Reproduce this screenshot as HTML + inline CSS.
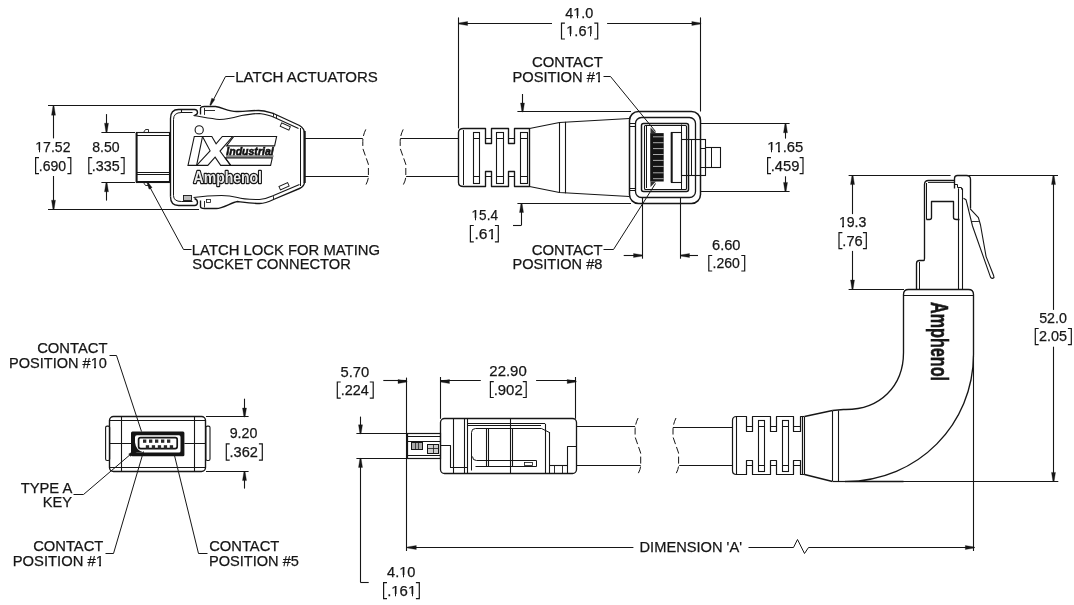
<!DOCTYPE html>
<html><head><meta charset="utf-8"><style>
html,body{margin:0;padding:0;background:#fff;}
svg{display:block;font-family:"Liberation Sans",sans-serif;will-change:transform;}
</style></head><body>
<svg width="1074" height="605" viewBox="0 0 1074 605">
<rect width="1074" height="605" fill="#fff"/>
<line x1="48" y1="105.5" x2="201" y2="105.5" stroke="#161616" stroke-width="1.1" />
<line x1="48" y1="209.5" x2="199" y2="209.5" stroke="#161616" stroke-width="1.1" />
<line x1="53.5" y1="105.7" x2="53.5" y2="138.4" stroke="#161616" stroke-width="1.1" />
<polygon points="54.05,106.2 55.5,115.2 51.5,115.2 52.95,106.2" fill="#161616" stroke="#161616" stroke-width="0.3" stroke-linejoin="round"/>
<line x1="53.5" y1="176" x2="53.5" y2="209.6" stroke="#161616" stroke-width="1.1" />
<polygon points="52.95,209.2 51.5,200.2 55.5,200.2 54.05,209.2" fill="#161616" stroke="#161616" stroke-width="0.3" stroke-linejoin="round"/>
<line x1="101.4" y1="132.5" x2="135" y2="132.5" stroke="#161616" stroke-width="1.1" />
<line x1="101.4" y1="182.5" x2="135" y2="182.5" stroke="#161616" stroke-width="1.1" />
<line x1="106.5" y1="114.1" x2="106.5" y2="132.4" stroke="#161616" stroke-width="1.1" />
<polygon points="105.95,132.2 104.5,123.2 108.5,123.2 107.05,132.2" fill="#161616" stroke="#161616" stroke-width="0.3" stroke-linejoin="round"/>
<line x1="106.5" y1="182.6" x2="106.5" y2="200.6" stroke="#161616" stroke-width="1.1" />
<polygon points="107.05,182.8 108.5,191.8 104.5,191.8 105.95,182.8" fill="#161616" stroke="#161616" stroke-width="0.3" stroke-linejoin="round"/>
<rect x="136.5" y="132.5" width="33" height="50" rx="0" fill="none" stroke="#161616" stroke-width="1.1" />
<line x1="136.6" y1="132.6" x2="136.6" y2="182.6" stroke="#161616" stroke-width="2.0" />
<line x1="137" y1="135.5" x2="169.5" y2="135.5" stroke="#161616" stroke-width="1.1" />
<line x1="137" y1="172.5" x2="169.5" y2="172.5" stroke="#161616" stroke-width="1.1" />
<line x1="137" y1="174.5" x2="169.5" y2="174.5" stroke="#161616" stroke-width="1.1" />
<line x1="137" y1="181.5" x2="169.5" y2="181.5" stroke="#161616" stroke-width="1.1" />
<polyline points="143.5,132.5 145.5,129.5 148.5,129.5 148.5,132.5" fill="none" stroke="#161616" stroke-width="0.9" stroke-linejoin="round" />
<polyline points="143.5,182.5 145.5,185.5 148.5,185.5 148.5,182.5" fill="none" stroke="#161616" stroke-width="0.9" stroke-linejoin="round" />
<path d="M 170.5,196.5 L 170.5,118.5 Q 170.5,109.5 178.5,109.5 L 194.5,109.5 Q 197.5,109.5 197.5,112.5 Q 197.5,114.5 194.5,115.5" fill="none" stroke="#161616" stroke-width="1.35" stroke-linejoin="round" />
<path d="M 173.5,195.5 L 173.5,119.5 Q 173.5,112.5 181.5,112.5 L 192.5,112.5" fill="none" stroke="#161616" stroke-width="1.0" stroke-linejoin="round" />
<line x1="181.5" y1="109.5" x2="181.5" y2="112.9" stroke="#161616" stroke-width="1.1" />
<path d="M 170.5,196.5 Q 170.5,205.5 178.5,205.5 L 194.5,205.5 Q 197.5,205.5 197.5,202.5 Q 197.5,199.5 194.5,198.5" fill="none" stroke="#161616" stroke-width="1.35" stroke-linejoin="round" />
<path d="M 173.5,195.5 Q 173.5,201.5 181.5,201.5 L 192.5,201.5" fill="none" stroke="#161616" stroke-width="1.0" stroke-linejoin="round" />
<path d="M 200.5,114.5 L 200.5,108.5 Q 200.5,106.5 204.5,106.5 L 215.5,106.5 C 222.5,107.5 228.5,111.5 236.5,111.5 C 242.5,111.5 250.5,110.5 258.5,110.5 C 265.5,110.5 269.5,112.5 273.5,113.5 L 299.5,125.5 Q 304.5,128.5 304.5,133.5 L 304.5,181.5 Q 304.5,186.5 299.5,188.5 L 273.5,199.5 C 269.5,201.5 265.5,203.5 259.5,203.5 C 252.5,203.5 245.5,202.5 237.5,201.5 C 231.5,202.5 222.5,208.5 216.5,208.5 L 204.5,208.5 Q 200.5,208.5 200.5,206.5 L 200.5,200.5" fill="none" stroke="#161616" stroke-width="1.35" stroke-linejoin="round" />
<path d="M 193.5,115.5 C 200.5,116.5 210.5,118.5 219.5,119.5 C 228.5,119.5 234.5,117.5 241.5,115.5 C 247.5,114.5 253.5,113.5 259.5,113.5 C 266.5,114.5 270.5,115.5 274.5,117.5 L 298.5,128.5" fill="none" stroke="#161616" stroke-width="1.1" stroke-linejoin="round" />
<path d="M 193.5,197.5 C 200.5,196.5 210.5,195.5 221.5,195.5 C 229.5,195.5 233.5,196.5 237.5,197.5 C 243.5,199.5 249.5,199.5 259.5,199.5 C 266.5,199.5 270.5,196.5 273.5,195.5 L 299.5,184.5" fill="none" stroke="#161616" stroke-width="1.1" stroke-linejoin="round" />
<line x1="300.5" y1="128" x2="300.5" y2="186" stroke="#161616" stroke-width="1.0" />
<line x1="304.6" y1="131" x2="304.6" y2="183" stroke="#161616" stroke-width="2.2" />
<line x1="204.5" y1="108" x2="204.5" y2="114.9" stroke="#161616" stroke-width="0.9" />
<line x1="204.2" y1="110.5" x2="215" y2="110.5" stroke="#161616" stroke-width="0.9" />
<line x1="204.5" y1="201" x2="204.5" y2="207.5" stroke="#161616" stroke-width="0.9" />
<rect x="206.5" y="199.5" width="4" height="3" rx="0" fill="none" stroke="#161616" stroke-width="0.8" />
<g transform="rotate(24 285 126.5)"><rect x="280.5" y="124.6" width="9.5" height="3.6" fill="none" stroke="#161616" stroke-width="0.9"/></g>
<g transform="rotate(-24 284 186.3)"><rect x="279.3" y="184.4" width="9.5" height="3.8" fill="none" stroke="#161616" stroke-width="0.9"/></g>
<rect x="183.5" y="195.5" width="8" height="5" rx="0" fill="#bbb" stroke="#161616" stroke-width="0.9" />
<line x1="273.5" y1="113.6" x2="273.5" y2="116.8" stroke="#161616" stroke-width="0.9" />
<line x1="276.5" y1="115" x2="276.5" y2="118.2" stroke="#161616" stroke-width="0.9" />
<line x1="273.5" y1="196.2" x2="273.5" y2="199.4" stroke="#161616" stroke-width="0.9" />
<circle cx="199.2" cy="129.9" r="4.1" fill="none" stroke="#161616" stroke-width="1.1"/>
<polygon points="194.3,136.5 202.5,136.5 196.6,165.4 188,165.4" fill="none" stroke="#161616" stroke-width="1.1" stroke-linejoin="miter"/>
<polygon points="202.5,136.5 211.8,136.5 216.1,143.9 222.3,136.5 232.6,136.5 220,151.1 230.6,165.4 220.7,165.4 215.1,157.1 207.8,165.4 196.6,165.4 210.1,150.8" fill="none" stroke="#161616" stroke-width="1.1" stroke-linejoin="miter"/>
<polygon points="233.8,136.5 276.6,136.5 274.6,145.9 226.6,145.9" fill="none" stroke="#161616" stroke-width="1.1" stroke-linejoin="miter"/>
<rect x="226" y="155.2" width="47.5" height="2" fill="#8a8a8a"/>
<text x="226.3" y="155" font-size="10.6" font-weight="bold" font-style="italic" textLength="47.4" lengthAdjust="spacingAndGlyphs" fill="#111" stroke="#111" stroke-width="0.6">Industrial</text>
<polygon points="225.2,157.9 272.3,157.9 270.6,165.4 230.8,165.4" fill="none" stroke="#161616" stroke-width="1.1" stroke-linejoin="miter"/>
<text x="193.6" y="183.4" font-size="16.8" font-weight="bold" textLength="68.4" lengthAdjust="spacingAndGlyphs" fill="#161616" stroke="#161616" stroke-width="2.6" stroke-linejoin="round">Amphenol</text>
<text x="193.6" y="183.4" font-size="16.8" font-weight="bold" textLength="68.4" lengthAdjust="spacingAndGlyphs" fill="#ececec">Amphenol</text>
<line x1="305" y1="138.5" x2="362.8" y2="138.5" stroke="#161616" stroke-width="1.1" />
<line x1="305" y1="176.5" x2="368.4" y2="176.5" stroke="#161616" stroke-width="1.1" />
<path d="M 365.8,129.4 Q 362.8,135.4 362.8,141.4 L 362.8,148.4 L 368.4,164.3 L 368.4,176.3 Q 368.4,180.3 365.6,185.3" fill="none" stroke="#161616" stroke-width="1.0" stroke-dasharray="7,3"/>
<polyline points="234.5,76.5 225.5,76.5 212.5,101.5" fill="none" stroke="#161616" stroke-width="1.0" stroke-linejoin="round" />
<polygon points="209.8,104.97 211.74,98.14 214.82,99.59 210.8,105.43" fill="#161616" stroke="#161616" stroke-width="0.3" stroke-linejoin="round"/>
<polyline points="191.5,249.5 183.5,249.5 149.5,186.5" fill="none" stroke="#161616" stroke-width="1.0" stroke-linejoin="round" />
<polygon points="147.79,181.94 152.08,187.59 149.08,189.18 146.81,182.46" fill="#161616" stroke="#161616" stroke-width="0.3" stroke-linejoin="round"/>
<path d="M 403.2,129.4 Q 400.2,135.4 400.2,141.4 L 400.2,148.4 L 405.8,164.3 L 405.8,176.3 Q 405.8,180.3 403.0,185.3" fill="none" stroke="#161616" stroke-width="1.0" stroke-dasharray="7,3"/>
<line x1="400.2" y1="138.5" x2="458.8" y2="138.5" stroke="#161616" stroke-width="1.1" />
<line x1="406.1" y1="176.5" x2="458.8" y2="176.5" stroke="#161616" stroke-width="1.1" />
<line x1="458.5" y1="17.4" x2="458.5" y2="128.4" stroke="#161616" stroke-width="1.1" />
<line x1="700.5" y1="17.4" x2="700.5" y2="111.5" stroke="#161616" stroke-width="1.1" />
<line x1="458.6" y1="23.5" x2="552" y2="23.5" stroke="#161616" stroke-width="1.1" />
<polygon points="458.6,22.95 467.6,21.5 467.6,25.5 458.6,24.05" fill="#161616" stroke="#161616" stroke-width="0.3" stroke-linejoin="round"/>
<line x1="607.1" y1="23.5" x2="700.3" y2="23.5" stroke="#161616" stroke-width="1.1" />
<polygon points="700.8,24.05 691.8,25.5 691.8,21.5 700.8,22.95" fill="#161616" stroke="#161616" stroke-width="0.3" stroke-linejoin="round"/>
<polyline points="603.5,76.5 610.5,76.5 655.5,131.5" fill="none" stroke="#161616" stroke-width="1.0" stroke-linejoin="round" />
<line x1="517.4" y1="111.5" x2="631" y2="111.5" stroke="#161616" stroke-width="1.1" />
<line x1="517.4" y1="203.5" x2="631" y2="203.5" stroke="#161616" stroke-width="1.1" />
<line x1="522.5" y1="94" x2="522.5" y2="111.9" stroke="#161616" stroke-width="1.1" />
<polygon points="521.95,112 520.5,103 524.5,103 523.05,112" fill="#161616" stroke="#161616" stroke-width="0.3" stroke-linejoin="round"/>
<line x1="521.5" y1="203.3" x2="521.5" y2="225.2" stroke="#161616" stroke-width="1.1" />
<polygon points="522.05,203.5 523.5,212.5 519.5,212.5 520.95,203.5" fill="#161616" stroke="#161616" stroke-width="0.3" stroke-linejoin="round"/>
<line x1="513" y1="225.5" x2="521.5" y2="225.5" stroke="#161616" stroke-width="1.1" />
<path d="M 463.5,128.5 L 485.5,128.5 L 485.5,143.5 L 491.5,143.5 L 491.5,128.5 L 508.5,128.5 L 508.5,143.5 L 514.5,143.5 L 514.5,128.5 L 529.5,128.5 L 529.5,186.5 L 514.5,186.5 L 514.5,171.5 L 508.5,171.5 L 508.5,186.5 L 491.5,186.5 L 491.5,171.5 L 485.5,171.5 L 485.5,186.5 L 463.5,186.5 Q 458.5,186.5 458.5,182.5 L 458.5,132.5 Q 458.5,128.5 463.5,128.5 Z" fill="none" stroke="#161616" stroke-width="1.35" stroke-linejoin="round" />
<line x1="463.5" y1="130" x2="463.5" y2="185" stroke="#161616" stroke-width="1.0" />
<line x1="485.4" y1="138.5" x2="491.3" y2="138.5" stroke="#161616" stroke-width="1.0" />
<line x1="485.4" y1="176.5" x2="491.3" y2="176.5" stroke="#161616" stroke-width="1.0" />
<line x1="508.8" y1="138.5" x2="514.6" y2="138.5" stroke="#161616" stroke-width="1.0" />
<line x1="508.8" y1="176.5" x2="514.6" y2="176.5" stroke="#161616" stroke-width="1.0" />
<rect x="473.5" y="132.5" width="6" height="51" rx="0" fill="none" stroke="#161616" stroke-width="1.1" />
<line x1="473.5" y1="138.5" x2="479.4" y2="138.5" stroke="#161616" stroke-width="1.0" />
<line x1="473.5" y1="176.5" x2="479.4" y2="176.5" stroke="#161616" stroke-width="1.0" />
<rect x="496.5" y="132.5" width="7" height="51" rx="0" fill="none" stroke="#161616" stroke-width="1.1" />
<line x1="496.2" y1="138.5" x2="503.2" y2="138.5" stroke="#161616" stroke-width="1.0" />
<line x1="496.2" y1="176.5" x2="503.2" y2="176.5" stroke="#161616" stroke-width="1.0" />
<rect x="520.5" y="132.5" width="7" height="51" rx="0" fill="none" stroke="#161616" stroke-width="1.1" />
<line x1="520.4" y1="138.5" x2="527.3" y2="138.5" stroke="#161616" stroke-width="1.0" />
<line x1="520.4" y1="176.5" x2="527.3" y2="176.5" stroke="#161616" stroke-width="1.0" />
<polyline points="529.5,128.5 559.5,122.5 629.5,118.5" fill="none" stroke="#161616" stroke-width="1.2" stroke-linejoin="round" />
<polyline points="529.5,186.5 559.5,192.5 629.5,196.5" fill="none" stroke="#161616" stroke-width="1.2" stroke-linejoin="round" />
<line x1="559.5" y1="122.4" x2="559.5" y2="192.9" stroke="#161616" stroke-width="1.1" />
<line x1="565.5" y1="121.8" x2="565.5" y2="193.3" stroke="#161616" stroke-width="1.1" />
<rect x="629.5" y="111.5" width="71" height="92" rx="9" fill="none" stroke="#161616" stroke-width="1.5" />
<rect x="635.5" y="117.5" width="60" height="80" rx="6" fill="none" stroke="#161616" stroke-width="1.3" />
<rect x="641.5" y="123.5" width="47" height="68" rx="2" fill="none" stroke="#161616" stroke-width="1.5" />
<rect x="644.5" y="125.5" width="42" height="64" rx="1" fill="none" stroke="#161616" stroke-width="1.1" />
<line x1="630" y1="123.5" x2="635.9" y2="123.5" stroke="#161616" stroke-width="1.0" />
<line x1="630" y1="126.5" x2="635.9" y2="126.5" stroke="#161616" stroke-width="1.0" />
<line x1="630" y1="188.5" x2="635.9" y2="188.5" stroke="#161616" stroke-width="1.0" />
<line x1="630" y1="190.5" x2="635.9" y2="190.5" stroke="#161616" stroke-width="1.0" />
<line x1="646.5" y1="126" x2="646.5" y2="188" stroke="#161616" stroke-width="1.0" />
<rect x="650.2" y="133.1" width="13.5" height="48.4" fill="#141414"/>
<line x1="653" y1="136.8" x2="663.7" y2="136.8" stroke="#d0d0d0" stroke-width="0.8"/>
<line x1="653" y1="142.7" x2="663.7" y2="142.7" stroke="#d0d0d0" stroke-width="0.8"/>
<line x1="653" y1="148.6" x2="663.7" y2="148.6" stroke="#d0d0d0" stroke-width="0.8"/>
<line x1="653" y1="154.5" x2="663.7" y2="154.5" stroke="#d0d0d0" stroke-width="0.8"/>
<line x1="653" y1="160.4" x2="663.7" y2="160.4" stroke="#d0d0d0" stroke-width="0.8"/>
<line x1="653" y1="166.4" x2="663.7" y2="166.4" stroke="#d0d0d0" stroke-width="0.8"/>
<line x1="653" y1="172.8" x2="663.7" y2="172.8" stroke="#d0d0d0" stroke-width="0.8"/>
<line x1="653" y1="178.7" x2="663.7" y2="178.7" stroke="#d0d0d0" stroke-width="0.8"/>
<polygon points="650.5,127.5 656,133.1 650.5,133.1" fill="#333"/>
<polygon points="650.5,187 656,181.5 650.5,181.5" fill="#333"/>
<line x1="671.7" y1="132.3" x2="671.7" y2="182.4" stroke="#161616" stroke-width="2.0" />
<rect x="671.5" y="132.5" width="10" height="50" rx="0" fill="none" stroke="#161616" stroke-width="1.1" />
<rect x="681.5" y="139.5" width="24" height="36" rx="0" fill="none" stroke="#161616" stroke-width="1.1" />
<line x1="691.5" y1="139.3" x2="691.5" y2="175.1" stroke="#161616" stroke-width="1.0" />
<line x1="695.5" y1="139.3" x2="695.5" y2="175.1" stroke="#161616" stroke-width="1.0" />
<line x1="700.3" y1="148.5" x2="705.3" y2="148.5" stroke="#161616" stroke-width="1.0" />
<line x1="700.3" y1="167.5" x2="705.3" y2="167.5" stroke="#161616" stroke-width="1.0" />
<rect x="705.5" y="147.5" width="15" height="20" rx="0" fill="none" stroke="#161616" stroke-width="1.1" />
<line x1="711.5" y1="147.6" x2="711.5" y2="167.3" stroke="#161616" stroke-width="1.0" />
<line x1="681.5" y1="124.5" x2="681.5" y2="132.3" stroke="#161616" stroke-width="1.0" />
<line x1="681.5" y1="182.4" x2="681.5" y2="190" stroke="#161616" stroke-width="1.0" />
<line x1="700.3" y1="123.5" x2="789.6" y2="123.5" stroke="#161616" stroke-width="1.1" />
<line x1="700.3" y1="191.5" x2="789.6" y2="191.5" stroke="#161616" stroke-width="1.1" />
<line x1="785.5" y1="123.3" x2="785.5" y2="138.6" stroke="#161616" stroke-width="1.1" />
<polygon points="786.05,123.8 787.5,132.8 783.5,132.8 784.95,123.8" fill="#161616" stroke="#161616" stroke-width="0.3" stroke-linejoin="round"/>
<line x1="785.5" y1="176.3" x2="785.5" y2="191.8" stroke="#161616" stroke-width="1.1" />
<polygon points="784.95,191.4 783.5,182.4 787.5,182.4 786.05,191.4" fill="#161616" stroke="#161616" stroke-width="0.3" stroke-linejoin="round"/>
<line x1="642.5" y1="197" x2="642.5" y2="258.7" stroke="#161616" stroke-width="1.1" />
<line x1="680.5" y1="197" x2="680.5" y2="258.7" stroke="#161616" stroke-width="1.1" />
<line x1="623.7" y1="255.5" x2="642" y2="255.5" stroke="#161616" stroke-width="1.1" />
<polygon points="642.5,256.05 633.5,257.5 633.5,253.5 642.5,254.95" fill="#161616" stroke="#161616" stroke-width="0.3" stroke-linejoin="round"/>
<line x1="680.8" y1="255.5" x2="698" y2="255.5" stroke="#161616" stroke-width="1.1" />
<polygon points="680.5,254.95 689.5,253.5 689.5,257.5 680.5,256.05" fill="#161616" stroke="#161616" stroke-width="0.3" stroke-linejoin="round"/>
<polyline points="603.5,249.5 613.5,249.5 655.5,183.5" fill="none" stroke="#161616" stroke-width="1.0" stroke-linejoin="round" />
<line x1="848.6" y1="175.5" x2="950.6" y2="175.5" stroke="#161616" stroke-width="1.1" />
<line x1="969" y1="175.5" x2="1058" y2="175.5" stroke="#161616" stroke-width="1.1" />
<line x1="848.6" y1="289.5" x2="904" y2="289.5" stroke="#161616" stroke-width="1.1" />
<line x1="852.5" y1="175.3" x2="852.5" y2="214.1" stroke="#161616" stroke-width="1.1" />
<polygon points="853.05,175.6 854.5,184.6 850.5,184.6 851.95,175.6" fill="#161616" stroke="#161616" stroke-width="0.3" stroke-linejoin="round"/>
<line x1="852.5" y1="250.9" x2="852.5" y2="289.1" stroke="#161616" stroke-width="1.1" />
<polygon points="851.95,289 850.5,280 854.5,280 853.05,289" fill="#161616" stroke="#161616" stroke-width="0.3" stroke-linejoin="round"/>
<line x1="1053.5" y1="175.3" x2="1053.5" y2="309.9" stroke="#161616" stroke-width="1.1" />
<polygon points="1054.05,175.6 1055.5,184.6 1051.5,184.6 1052.95,175.6" fill="#161616" stroke="#161616" stroke-width="0.3" stroke-linejoin="round"/>
<line x1="1053.5" y1="346.7" x2="1053.5" y2="481.2" stroke="#161616" stroke-width="1.1" />
<polygon points="1052.95,481.4 1051.5,472.4 1055.5,472.4 1054.05,481.4" fill="#161616" stroke="#161616" stroke-width="0.3" stroke-linejoin="round"/>
<line x1="846" y1="481.5" x2="1058.3" y2="481.5" stroke="#161616" stroke-width="1.1" />
<path d="M 916.5,289.5 L 916.5,263.5 Q 916.5,260.5 919.5,260.5 L 923.5,260.5 Q 924.5,260.5 924.5,258.5 L 924.5,184.5 Q 924.5,180.5 928.5,180.5 L 954.5,180.5" fill="none" stroke="#161616" stroke-width="1.35" stroke-linejoin="round" />
<line x1="919.5" y1="262" x2="919.5" y2="289.5" stroke="#161616" stroke-width="1.0" />
<line x1="926.5" y1="183" x2="926.5" y2="219.6" stroke="#161616" stroke-width="1.0" />
<line x1="928" y1="182.5" x2="954.1" y2="182.5" stroke="#161616" stroke-width="0.9" />
<path d="M 926.5,219.5 L 929.5,219.5 Q 931.5,219.5 931.5,217.5 L 931.5,201.5 L 953.5,201.5 L 953.5,217.5 Q 953.5,219.5 956.5,219.5 L 959.5,219.5" fill="none" stroke="#161616" stroke-width="1.35" stroke-linejoin="round" />
<line x1="958.5" y1="188.3" x2="958.5" y2="289.5" stroke="#161616" stroke-width="1.1" />
<line x1="962.5" y1="188.3" x2="962.5" y2="289.5" stroke="#161616" stroke-width="1.1" />
<path d="M 954.5,188.5 L 954.5,178.5 Q 954.5,175.5 957.5,175.5 L 966.5,175.5 Q 970.5,175.5 970.5,179.5 L 970.5,208.5" fill="none" stroke="#161616" stroke-width="1.35" stroke-linejoin="round" />
<polyline points="954.5,184.5 957.5,184.5 957.5,187.5 961.5,187.5 961.5,189.5" fill="none" stroke="#161616" stroke-width="1.0" stroke-linejoin="round" />
<path d="M 963.5,198.2 L 966,199.7 L 972.5,226 L 990.5,277.1 Q 992,279.5 994,277.5 L 993.5,275.2 L 986.1,256.6 L 980.5,225 L 978.4,217.6 L 970,208.7" fill="none" stroke="#161616" stroke-width="1.1" stroke-linejoin="round"/>
<line x1="971.9" y1="221.5" x2="978.9" y2="221.5" stroke="#161616" stroke-width="0.9" />
<path d="M 903.5,481.5 L 845.5,481.5 C 918.5,481.5 973.5,423.5 973.5,354.5 L 973.5,294.5 Q 973.5,289.5 968.5,289.5 L 908.5,289.5 Q 903.5,289.5 903.5,294.5 L 903.5,352.5 C 903.5,385.5 880.5,410.5 843.5,409.5 L 832.5,410.5" fill="none" stroke="#161616" stroke-width="1.35" stroke-linejoin="round" />
<line x1="904" y1="295.5" x2="973.5" y2="295.5" stroke="#161616" stroke-width="1.0" />
<line x1="832.8" y1="481.5" x2="846" y2="481.5" stroke="#161616" stroke-width="1.2" />
<line x1="832.5" y1="410.7" x2="832.5" y2="481.2" stroke="#161616" stroke-width="1.1" />
<line x1="838.5" y1="410.5" x2="838.5" y2="481.2" stroke="#161616" stroke-width="1.1" />
<line x1="973.5" y1="356" x2="973.5" y2="551" stroke="#161616" stroke-width="1.1" />
<text x="0" y="0" font-size="24" font-weight="bold" textLength="79" lengthAdjust="spacingAndGlyphs" transform="translate(930.6,302) rotate(90)" fill="#161616" stroke="#161616" stroke-width="0.6">Amphenol</text>
<polyline points="804.5,416.5 832.5,410.5" fill="none" stroke="#161616" stroke-width="1.35" stroke-linejoin="round" />
<line x1="804.5" y1="416.8" x2="804.5" y2="474.8" stroke="#161616" stroke-width="1.1" />
<line x1="802.2" y1="416.5" x2="804.4" y2="416.5" stroke="#161616" stroke-width="1.1" />
<line x1="802.2" y1="474.5" x2="804.4" y2="474.5" stroke="#161616" stroke-width="1.1" />
<polyline points="804.5,474.5 832.5,481.5" fill="none" stroke="#161616" stroke-width="1.35" stroke-linejoin="round" />
<path d="M 736.5,416.5 L 746.5,416.5 L 746.5,431.5 L 752.5,431.5 L 752.5,416.5 L 770.5,416.5 L 770.5,431.5 L 776.5,431.5 L 776.5,416.5 L 793.5,416.5 L 793.5,431.5 L 800.5,431.5 L 800.5,416.5 L 802.5,416.5 L 802.5,474.5 L 800.5,474.5 L 800.5,460.5 L 793.5,460.5 L 793.5,474.5 L 776.5,474.5 L 776.5,460.5 L 770.5,460.5 L 770.5,474.5 L 752.5,474.5 L 752.5,460.5 L 746.5,460.5 L 746.5,474.5 L 736.5,474.5 Q 732.5,474.5 732.5,470.5 L 732.5,420.5 Q 732.5,416.5 736.5,416.5 Z" fill="none" stroke="#161616" stroke-width="1.2" stroke-linejoin="round" />
<line x1="736.5" y1="416.8" x2="736.5" y2="474.8" stroke="#161616" stroke-width="1.1" />
<line x1="746.8" y1="426.5" x2="752.9" y2="426.5" stroke="#161616" stroke-width="1.0" />
<line x1="746.8" y1="465.5" x2="752.9" y2="465.5" stroke="#161616" stroke-width="1.0" />
<line x1="770.3" y1="426.5" x2="776.5" y2="426.5" stroke="#161616" stroke-width="1.0" />
<line x1="770.3" y1="465.5" x2="776.5" y2="465.5" stroke="#161616" stroke-width="1.0" />
<line x1="793.9" y1="426.5" x2="800" y2="426.5" stroke="#161616" stroke-width="1.0" />
<line x1="793.9" y1="465.5" x2="800" y2="465.5" stroke="#161616" stroke-width="1.0" />
<rect x="758.5" y="420.5" width="6" height="51" rx="0" fill="none" stroke="#161616" stroke-width="1.1" />
<line x1="758.6" y1="426.5" x2="764.8" y2="426.5" stroke="#161616" stroke-width="1.0" />
<line x1="758.6" y1="465.5" x2="764.8" y2="465.5" stroke="#161616" stroke-width="1.0" />
<rect x="782.5" y="420.5" width="6" height="51" rx="0" fill="none" stroke="#161616" stroke-width="1.1" />
<line x1="782.6" y1="426.5" x2="788.7" y2="426.5" stroke="#161616" stroke-width="1.0" />
<line x1="782.6" y1="465.5" x2="788.7" y2="465.5" stroke="#161616" stroke-width="1.0" />
<line x1="673" y1="427.5" x2="732.4" y2="427.5" stroke="#161616" stroke-width="1.1" />
<line x1="679.2" y1="465.5" x2="732.4" y2="465.5" stroke="#161616" stroke-width="1.1" />
<path d="M 676.0,418.0 Q 673.0,424.0 673.0,430.0 L 673.0,437.0 L 678.6,453.1 L 678.6,465.1 Q 678.6,469.1 675.8,474.1" fill="none" stroke="#161616" stroke-width="1.0" stroke-dasharray="7,3"/>
<line x1="576" y1="426.5" x2="635.1" y2="426.5" stroke="#161616" stroke-width="1.1" />
<line x1="576" y1="465.5" x2="640.7" y2="465.5" stroke="#161616" stroke-width="1.1" />
<path d="M 638.1,418.0 Q 635.1,424.0 635.1,430.0 L 635.1,437.0 L 640.7,453.1 L 640.7,465.1 Q 640.7,469.1 637.9,474.1" fill="none" stroke="#161616" stroke-width="1.0" stroke-dasharray="7,3"/>
<line x1="406.5" y1="377.6" x2="406.5" y2="551" stroke="#161616" stroke-width="1.1" />
<line x1="383.3" y1="380.5" x2="406.7" y2="380.5" stroke="#161616" stroke-width="1.1" />
<polygon points="407,382.05 398,383.5 398,379.5 407,380.95" fill="#161616" stroke="#161616" stroke-width="0.3" stroke-linejoin="round"/>
<line x1="440.5" y1="377" x2="440.5" y2="418.8" stroke="#161616" stroke-width="1.1" />
<line x1="575.5" y1="377" x2="575.5" y2="418.8" stroke="#161616" stroke-width="1.1" />
<line x1="440.6" y1="380.5" x2="480.8" y2="380.5" stroke="#161616" stroke-width="1.1" />
<polygon points="440.5,380.95 449.5,379.5 449.5,383.5 440.5,382.05" fill="#161616" stroke="#161616" stroke-width="0.3" stroke-linejoin="round"/>
<line x1="536.1" y1="380.5" x2="575.9" y2="380.5" stroke="#161616" stroke-width="1.1" />
<polygon points="576.2,382.05 567.2,383.5 567.2,379.5 576.2,380.95" fill="#161616" stroke="#161616" stroke-width="0.3" stroke-linejoin="round"/>
<line x1="356.4" y1="433.5" x2="406.7" y2="433.5" stroke="#161616" stroke-width="1.1" />
<line x1="356.4" y1="458.5" x2="406.7" y2="458.5" stroke="#161616" stroke-width="1.1" />
<line x1="360.5" y1="416.6" x2="360.5" y2="433.6" stroke="#161616" stroke-width="1.1" />
<polygon points="359.95,433.8 358.5,424.8 362.5,424.8 361.05,433.8" fill="#161616" stroke="#161616" stroke-width="0.3" stroke-linejoin="round"/>
<line x1="360.5" y1="458.1" x2="360.5" y2="582.2" stroke="#161616" stroke-width="1.1" />
<polygon points="361.05,458.4 362.5,467.4 358.5,467.4 359.95,458.4" fill="#161616" stroke="#161616" stroke-width="0.3" stroke-linejoin="round"/>
<line x1="360.3" y1="582.5" x2="368.7" y2="582.5" stroke="#161616" stroke-width="1.1" />
<rect x="440.5" y="418.5" width="136" height="55" rx="4" fill="none" stroke="#161616" stroke-width="1.3" />
<rect x="407.5" y="433.5" width="33" height="25" rx="0" fill="none" stroke="#161616" stroke-width="1.2" />
<line x1="408" y1="436.5" x2="440.7" y2="436.5" stroke="#161616" stroke-width="1.1" />
<line x1="408" y1="441.5" x2="440.7" y2="441.5" stroke="#161616" stroke-width="1.1" />
<line x1="408" y1="455.5" x2="440.7" y2="455.5" stroke="#161616" stroke-width="1.1" />
<rect x="411.5" y="442.5" width="11" height="7" rx="0" fill="#aaa" stroke="#161616" stroke-width="1.0" />
<line x1="415.5" y1="443" x2="415.5" y2="449" stroke="#161616" stroke-width="0.7" />
<line x1="418.5" y1="443" x2="418.5" y2="449" stroke="#161616" stroke-width="0.7" />
<rect x="427.5" y="444.5" width="11" height="9" rx="0" fill="#ccc" stroke="#161616" stroke-width="1.0" />
<line x1="433.5" y1="444.5" x2="433.5" y2="453.3" stroke="#161616" stroke-width="0.8" />
<line x1="427.4" y1="448.5" x2="438.9" y2="448.5" stroke="#161616" stroke-width="0.8" />
<line x1="453.5" y1="418.8" x2="453.5" y2="473.3" stroke="#161616" stroke-width="1.1" />
<line x1="464.5" y1="418.8" x2="464.5" y2="473.3" stroke="#161616" stroke-width="1.1" />
<line x1="467.5" y1="418.8" x2="467.5" y2="473.3" stroke="#161616" stroke-width="1.1" />
<polyline points="440.5,445.5 450.5,445.5 450.5,467.5 467.5,467.5" fill="none" stroke="#161616" stroke-width="1.1" stroke-linejoin="round" />
<line x1="467.2" y1="423.5" x2="545" y2="423.5" stroke="#161616" stroke-width="1.1" />
<line x1="467.2" y1="425.5" x2="541" y2="425.5" stroke="#161616" stroke-width="1.1" />
<path d="M 471.5,470.5 L 471.5,432.5 Q 471.5,428.5 475.5,428.5 L 541.5,428.5 L 549.5,432.5 M 475.5,466.5 L 536.5,466.5 L 536.5,460.5 L 476.5,460.5 Q 472.5,460.5 472.5,456.5" fill="none" stroke="#161616" stroke-width="1.0" stroke-linejoin="round" />
<line x1="486.5" y1="428" x2="486.5" y2="466" stroke="#161616" stroke-width="1.1" />
<line x1="488.5" y1="428" x2="488.5" y2="466" stroke="#161616" stroke-width="1.1" />
<line x1="510.5" y1="418.8" x2="510.5" y2="473.3" stroke="#161616" stroke-width="1.1" />
<line x1="512.5" y1="428" x2="512.5" y2="466" stroke="#161616" stroke-width="1.1" />
<line x1="545.5" y1="423.8" x2="545.5" y2="473.3" stroke="#161616" stroke-width="1.1" />
<line x1="549.5" y1="432" x2="549.5" y2="473.3" stroke="#161616" stroke-width="1.1" />
<polyline points="576.5,446.5 567.5,446.5 567.5,473.5" fill="none" stroke="#161616" stroke-width="1.1" stroke-linejoin="round" />
<polyline points="549.5,465.5 567.5,465.5" fill="none" stroke="#161616" stroke-width="1.1" stroke-linejoin="round" />
<line x1="554.5" y1="465" x2="554.5" y2="473.3" stroke="#161616" stroke-width="0.9" />
<line x1="562.5" y1="465" x2="562.5" y2="473.3" stroke="#161616" stroke-width="0.9" />
<rect x="524.5" y="462.5" width="8" height="3" rx="0" fill="none" stroke="#161616" stroke-width="0.8" />
<polyline points="109.5,355.5 116.5,355.5 141.5,431.5" fill="none" stroke="#161616" stroke-width="1.0" stroke-linejoin="round" />
<rect x="109.5" y="416.5" width="96" height="55" rx="4" fill="none" stroke="#161616" stroke-width="1.4" />
<rect x="105.6" y="426.1" width="4.1" height="34.4" rx="1.5" fill="none" stroke="#161616" stroke-width="1.1"/>
<rect x="205.9" y="426.1" width="4.1" height="34.4" rx="1.5" fill="none" stroke="#161616" stroke-width="1.1"/>
<line x1="121.5" y1="416.7" x2="121.5" y2="471.3" stroke="#161616" stroke-width="1.1" />
<line x1="194.5" y1="416.7" x2="194.5" y2="471.3" stroke="#161616" stroke-width="1.1" />
<line x1="109.7" y1="420.5" x2="205.9" y2="420.5" stroke="#161616" stroke-width="1.0" />
<line x1="109.7" y1="467.5" x2="205.9" y2="467.5" stroke="#161616" stroke-width="1.0" />
<line x1="109.7" y1="443.5" x2="131" y2="443.5" stroke="#161616" stroke-width="1.0" />
<line x1="184.4" y1="443.5" x2="205.9" y2="443.5" stroke="#161616" stroke-width="1.0" />
<path d="M 131,433 Q 131,431.5 132.5,431.5 L 183,431.5 Q 184.4,431.5 184.4,433 L 184.4,455 Q 184.4,456.2 183,456.2 L 132.5,456.2 Q 131,456.2 131,455 Z M 137,435.3 L 179,435.3 Q 180.5,435.3 180.5,437 L 180.5,451 Q 180.5,452.5 179,452.5 L 137,452.5 Q 135,452.5 135,450.5 L 135,437.3 Q 135,435.3 137,435.3 Z" fill="#141414" fill-rule="evenodd"/>
<rect x="138.6" y="437.6" width="38.6" height="11" rx="2" fill="none" stroke="#141414" stroke-width="1.7"/>
<path d="M 135,442.5 Q 136,451 144,452.5 L 135,452.5 Z" fill="#141414"/>
<rect x="143.0" y="439.5" width="3.3" height="3.3" fill="#2a2a2a"/>
<rect x="145.8" y="445.2" width="3.3" height="3.4" fill="#2a2a2a"/>
<rect x="149.0" y="439.5" width="3.3" height="3.3" fill="#2a2a2a"/>
<rect x="151.8" y="445.2" width="3.3" height="3.4" fill="#2a2a2a"/>
<rect x="155.0" y="439.5" width="3.3" height="3.3" fill="#2a2a2a"/>
<rect x="157.8" y="445.2" width="3.3" height="3.4" fill="#2a2a2a"/>
<rect x="161.0" y="439.5" width="3.3" height="3.3" fill="#2a2a2a"/>
<rect x="163.8" y="445.2" width="3.3" height="3.4" fill="#2a2a2a"/>
<rect x="167.0" y="439.5" width="3.3" height="3.3" fill="#2a2a2a"/>
<rect x="169.8" y="445.2" width="3.3" height="3.4" fill="#2a2a2a"/>
<line x1="206" y1="416.5" x2="248.6" y2="416.5" stroke="#161616" stroke-width="1.1" />
<line x1="206" y1="471.5" x2="248.6" y2="471.5" stroke="#161616" stroke-width="1.1" />
<line x1="244.5" y1="398.7" x2="244.5" y2="416.8" stroke="#161616" stroke-width="1.1" />
<polygon points="243.95,417 242.5,408 246.5,408 245.05,417" fill="#161616" stroke="#161616" stroke-width="0.3" stroke-linejoin="round"/>
<line x1="244.5" y1="471.3" x2="244.5" y2="488.6" stroke="#161616" stroke-width="1.1" />
<polygon points="245.05,471.6 246.5,480.6 242.5,480.6 243.95,471.6" fill="#161616" stroke="#161616" stroke-width="0.3" stroke-linejoin="round"/>
<polyline points="73.5,494.5 83.5,494.5 131.5,453.5" fill="none" stroke="#161616" stroke-width="1.0" stroke-linejoin="round" />
<polygon points="134.65,451.83 130.63,456.41 128.63,453.92 133.95,450.97" fill="#161616" stroke="#161616" stroke-width="0.3" stroke-linejoin="round"/>
<polyline points="105.5,553.5 113.5,553.5 143.5,451.5" fill="none" stroke="#161616" stroke-width="1.0" stroke-linejoin="round" />
<polyline points="207.5,553.5 198.5,553.5 174.5,455.5" fill="none" stroke="#161616" stroke-width="1.0" stroke-linejoin="round" />
<line x1="407.3" y1="547.5" x2="633.4" y2="547.5" stroke="#161616" stroke-width="1.1" />
<polygon points="407.3,546.95 416.3,545.5 416.3,549.5 407.3,548.05" fill="#161616" stroke="#161616" stroke-width="0.3" stroke-linejoin="round"/>
<polyline points="748.5,547.5 793.5,547.5 797.5,539.5 804.5,553.5 808.5,547.5 974.5,547.5" fill="none" stroke="#161616" stroke-width="1.0" stroke-linejoin="round" />
<polygon points="974.3,548.05 965.3,549.5 965.3,545.5 974.3,546.95" fill="#161616" stroke="#161616" stroke-width="0.3" stroke-linejoin="round"/>
<text id="t0" x="35.30" y="151.70" font-size="15.2" textLength="35.16" lengthAdjust="spacingAndGlyphs" fill="#161616" stroke="#161616" stroke-width="0.25">17.52</text>
<text id="t1" x="38.75" y="171.10" font-size="15.2" textLength="27.32" lengthAdjust="spacingAndGlyphs" fill="#161616" stroke="#161616" stroke-width="0.25">.690</text>
<text id="t2" x="92.30" y="151.70" font-size="15.2" textLength="27.33" lengthAdjust="spacingAndGlyphs" fill="#161616" stroke="#161616" stroke-width="0.25">8.50</text>
<text id="t3" x="91.75" y="171.10" font-size="15.2" textLength="27.85" lengthAdjust="spacingAndGlyphs" fill="#161616" stroke="#161616" stroke-width="0.25">.335</text>
<text id="t4" x="565.25" y="17.90" font-size="15.2" textLength="28.05" lengthAdjust="spacingAndGlyphs" fill="#161616" stroke="#161616" stroke-width="0.25">41.0</text>
<text id="t5" x="566.30" y="35.70" font-size="15.2" textLength="28.21" lengthAdjust="spacingAndGlyphs" fill="#161616" stroke="#161616" stroke-width="0.25">1.61</text>
<text id="t6" x="767.35" y="151.70" font-size="15.2" textLength="36.03" lengthAdjust="spacingAndGlyphs" fill="#161616" stroke="#161616" stroke-width="0.25">11.65</text>
<text id="t7" x="770.65" y="171.10" font-size="15.2" textLength="28.71" lengthAdjust="spacingAndGlyphs" fill="#161616" stroke="#161616" stroke-width="0.25">.459</text>
<text id="t8" x="471.60" y="219.90" font-size="15.2" textLength="26.34" lengthAdjust="spacingAndGlyphs" fill="#161616" stroke="#161616" stroke-width="0.25">15.4</text>
<text id="t9" x="474.50" y="238.90" font-size="15.2" textLength="21.71" lengthAdjust="spacingAndGlyphs" fill="#161616" stroke="#161616" stroke-width="0.25">.61</text>
<text id="t10" x="712.05" y="249.70" font-size="15.2" textLength="28.43" lengthAdjust="spacingAndGlyphs" fill="#161616" stroke="#161616" stroke-width="0.25">6.60</text>
<text id="t11" x="712.55" y="267.70" font-size="15.2" textLength="27.32" lengthAdjust="spacingAndGlyphs" fill="#161616" stroke="#161616" stroke-width="0.25">.260</text>
<text id="t12" x="838.90" y="226.70" font-size="15.2" textLength="27.46" lengthAdjust="spacingAndGlyphs" fill="#161616" stroke="#161616" stroke-width="0.25">19.3</text>
<text id="t13" x="842.35" y="245.70" font-size="15.2" textLength="20.40" lengthAdjust="spacingAndGlyphs" fill="#161616" stroke="#161616" stroke-width="0.25">.76</text>
<text id="t14" x="1039.15" y="322.70" font-size="15.2" textLength="27.75" lengthAdjust="spacingAndGlyphs" fill="#161616" stroke="#161616" stroke-width="0.25">52.0</text>
<text id="t15" x="1038.95" y="341.30" font-size="15.2" textLength="28.07" lengthAdjust="spacingAndGlyphs" fill="#161616" stroke="#161616" stroke-width="0.25">2.05</text>
<text id="t16" x="340.45" y="376.50" font-size="15.2" textLength="28.70" lengthAdjust="spacingAndGlyphs" fill="#161616" stroke="#161616" stroke-width="0.25">5.70</text>
<text id="t17" x="340.65" y="395.00" font-size="15.2" textLength="28.04" lengthAdjust="spacingAndGlyphs" fill="#161616" stroke="#161616" stroke-width="0.25">.224</text>
<text id="t18" x="489.35" y="376.00" font-size="15.2" textLength="37.37" lengthAdjust="spacingAndGlyphs" fill="#161616" stroke="#161616" stroke-width="0.25">22.90</text>
<text id="t19" x="493.65" y="394.60" font-size="15.2" textLength="29.07" lengthAdjust="spacingAndGlyphs" fill="#161616" stroke="#161616" stroke-width="0.25">.902</text>
<text id="t20" x="387.05" y="576.70" font-size="15.2" textLength="28.42" lengthAdjust="spacingAndGlyphs" fill="#161616" stroke="#161616" stroke-width="0.25">4.10</text>
<text id="t21" x="387.15" y="595.70" font-size="15.2" textLength="29.07" lengthAdjust="spacingAndGlyphs" fill="#161616" stroke="#161616" stroke-width="0.25">.161</text>
<text id="t22" x="229.65" y="438.00" font-size="15.2" textLength="27.75" lengthAdjust="spacingAndGlyphs" fill="#161616" stroke="#161616" stroke-width="0.25">9.20</text>
<text id="t23" x="229.55" y="457.00" font-size="15.2" textLength="28.34" lengthAdjust="spacingAndGlyphs" fill="#161616" stroke="#161616" stroke-width="0.25">.362</text>
<text id="t24" x="235.25" y="81.80" font-size="15.2" textLength="142.64" lengthAdjust="spacingAndGlyphs" fill="#161616" stroke="#161616" stroke-width="0.25">LATCH ACTUATORS</text>
<text id="t25" x="191.85" y="254.80" font-size="15.2" textLength="188.18" lengthAdjust="spacingAndGlyphs" fill="#161616" stroke="#161616" stroke-width="0.25">LATCH LOCK FOR MATING</text>
<text id="t26" x="192.35" y="268.80" font-size="15.2" textLength="158.45" lengthAdjust="spacingAndGlyphs" fill="#161616" stroke="#161616" stroke-width="0.25">SOCKET CONNECTOR</text>
<text id="t27" x="532.05" y="67.40" font-size="15.2" textLength="70.76" lengthAdjust="spacingAndGlyphs" fill="#161616" stroke="#161616" stroke-width="0.25">CONTACT</text>
<text id="t28" x="512.45" y="81.50" font-size="15.2" textLength="90.61" lengthAdjust="spacingAndGlyphs" fill="#161616" stroke="#161616" stroke-width="0.25">POSITION #1</text>
<text id="t29" x="531.75" y="254.60" font-size="15.2" textLength="70.97" lengthAdjust="spacingAndGlyphs" fill="#161616" stroke="#161616" stroke-width="0.25">CONTACT</text>
<text id="t30" x="512.45" y="268.80" font-size="15.2" textLength="89.95" lengthAdjust="spacingAndGlyphs" fill="#161616" stroke="#161616" stroke-width="0.25">POSITION #8</text>
<text id="t31" x="37.15" y="353.40" font-size="15.2" textLength="70.40" lengthAdjust="spacingAndGlyphs" fill="#161616" stroke="#161616" stroke-width="0.25">CONTACT</text>
<text id="t32" x="9.05" y="367.80" font-size="15.2" textLength="97.84" lengthAdjust="spacingAndGlyphs" fill="#161616" stroke="#161616" stroke-width="0.25">POSITION #10</text>
<text id="t33" x="20.65" y="492.90" font-size="15.2" textLength="51.71" lengthAdjust="spacingAndGlyphs" fill="#161616" stroke="#161616" stroke-width="0.25">TYPE A</text>
<text id="t34" x="42.75" y="506.70" font-size="15.2" textLength="29.25" lengthAdjust="spacingAndGlyphs" fill="#161616" stroke="#161616" stroke-width="0.25">KEY</text>
<text id="t35" x="33.15" y="551.40" font-size="15.2" textLength="70.25" lengthAdjust="spacingAndGlyphs" fill="#161616" stroke="#161616" stroke-width="0.25">CONTACT</text>
<text id="t36" x="12.75" y="565.80" font-size="15.2" textLength="91.12" lengthAdjust="spacingAndGlyphs" fill="#161616" stroke="#161616" stroke-width="0.25">POSITION #1</text>
<text id="t37" x="209.15" y="551.40" font-size="15.2" textLength="70.25" lengthAdjust="spacingAndGlyphs" fill="#161616" stroke="#161616" stroke-width="0.25">CONTACT</text>
<text id="t38" x="208.95" y="565.80" font-size="15.2" textLength="89.95" lengthAdjust="spacingAndGlyphs" fill="#161616" stroke="#161616" stroke-width="0.25">POSITION #5</text>
<text id="t39" x="639.55" y="551.80" font-size="15.2" textLength="102.41" lengthAdjust="spacingAndGlyphs" fill="#161616" stroke="#161616" stroke-width="0.25">DIMENSION 'A'</text>
<path d="M 39.0,157.6 L 35.6,157.6 L 35.6,173.7 L 39.0,173.7" fill="none" stroke="#161616" stroke-width="1.2"/>
<path d="M 67.4,157.6 L 70.8,157.6 L 70.8,173.7 L 67.4,173.7" fill="none" stroke="#161616" stroke-width="1.2"/>
<path d="M 92.2,157.6 L 88.8,157.6 L 88.8,173.7 L 92.2,173.7" fill="none" stroke="#161616" stroke-width="1.2"/>
<path d="M 120.7,157.6 L 124.1,157.6 L 124.1,173.7 L 120.7,173.7" fill="none" stroke="#161616" stroke-width="1.2"/>
<path d="M 564.9,23.1 L 561.5,23.1 L 561.5,39.0 L 564.9,39.0" fill="none" stroke="#161616" stroke-width="1.2"/>
<path d="M 594.3,23.1 L 597.7,23.1 L 597.7,39.0 L 594.3,39.0" fill="none" stroke="#161616" stroke-width="1.2"/>
<path d="M 771.0,157.6 L 767.6,157.6 L 767.6,173.7 L 771.0,173.7" fill="none" stroke="#161616" stroke-width="1.2"/>
<path d="M 799.6,157.6 L 803.0,157.6 L 803.0,173.7 L 799.6,173.7" fill="none" stroke="#161616" stroke-width="1.2"/>
<path d="M 473.8,225.5 L 470.4,225.5 L 470.4,241.8 L 473.8,241.8" fill="none" stroke="#161616" stroke-width="1.2"/>
<path d="M 494.9,225.5 L 498.3,225.5 L 498.3,241.8 L 494.9,241.8" fill="none" stroke="#161616" stroke-width="1.2"/>
<path d="M 712.2,255.5 L 708.8,255.5 L 708.8,271.0 L 712.2,271.0" fill="none" stroke="#161616" stroke-width="1.2"/>
<path d="M 741.3,255.5 L 744.7,255.5 L 744.7,271.0 L 741.3,271.0" fill="none" stroke="#161616" stroke-width="1.2"/>
<path d="M 842.4,232.7 L 839.0,232.7 L 839.0,248.6 L 842.4,248.6" fill="none" stroke="#161616" stroke-width="1.2"/>
<path d="M 862.9,232.7 L 866.3,232.7 L 866.3,248.6 L 862.9,248.6" fill="none" stroke="#161616" stroke-width="1.2"/>
<path d="M 1038.7,328.5 L 1035.3,328.5 L 1035.3,344.6 L 1038.7,344.6" fill="none" stroke="#161616" stroke-width="1.2"/>
<path d="M 1067.9,328.5 L 1071.3,328.5 L 1071.3,344.6 L 1067.9,344.6" fill="none" stroke="#161616" stroke-width="1.2"/>
<path d="M 340.7,382.0 L 337.3,382.0 L 337.3,398.1 L 340.7,398.1" fill="none" stroke="#161616" stroke-width="1.2"/>
<path d="M 369.8,382.0 L 373.2,382.0 L 373.2,398.1 L 369.8,398.1" fill="none" stroke="#161616" stroke-width="1.2"/>
<path d="M 493.8,381.6 L 490.4,381.6 L 490.4,397.5 L 493.8,397.5" fill="none" stroke="#161616" stroke-width="1.2"/>
<path d="M 522.8,381.6 L 526.2,381.6 L 526.2,397.5 L 522.8,397.5" fill="none" stroke="#161616" stroke-width="1.2"/>
<path d="M 387.0,582.6 L 383.6,582.6 L 383.6,598.7 L 387.0,598.7" fill="none" stroke="#161616" stroke-width="1.2"/>
<path d="M 415.9,582.6 L 419.3,582.6 L 419.3,598.7 L 415.9,598.7" fill="none" stroke="#161616" stroke-width="1.2"/>
<path d="M 229.7,443.8 L 226.3,443.8 L 226.3,460.1 L 229.7,460.1" fill="none" stroke="#161616" stroke-width="1.2"/>
<path d="M 258.9,443.8 L 262.3,443.8 L 262.3,460.1 L 258.9,460.1" fill="none" stroke="#161616" stroke-width="1.2"/>
<rect x="35" y="150" width="4" height="3" fill="#fff"/>
<rect x="40" y="150" width="3" height="3" fill="#fff"/>
<rect x="573" y="16" width="4" height="3" fill="#fff"/>
<rect x="578" y="16" width="3" height="3" fill="#fff"/>
<rect x="566" y="34" width="4" height="3" fill="#fff"/>
<rect x="571" y="34" width="3" height="3" fill="#fff"/>
<rect x="586" y="34" width="4" height="3" fill="#fff"/>
<rect x="591" y="34" width="3" height="3" fill="#fff"/>
<rect x="767" y="150" width="4" height="3" fill="#fff"/>
<rect x="772" y="150" width="3" height="3" fill="#fff"/>
<rect x="774" y="150" width="4" height="3" fill="#fff"/>
<rect x="780" y="150" width="3" height="3" fill="#fff"/>
<rect x="472" y="218" width="3" height="3" fill="#fff"/>
<rect x="476" y="218" width="3" height="3" fill="#fff"/>
<rect x="487" y="237" width="4" height="3" fill="#fff"/>
<rect x="493" y="237" width="3" height="3" fill="#fff"/>
<rect x="839" y="225" width="3" height="3" fill="#fff"/>
<rect x="844" y="225" width="3" height="3" fill="#fff"/>
<rect x="399" y="575" width="4" height="3" fill="#fff"/>
<rect x="404" y="575" width="3" height="3" fill="#fff"/>
<rect x="391" y="594" width="4" height="3" fill="#fff"/>
<rect x="396" y="594" width="4" height="3" fill="#fff"/>
<rect x="408" y="594" width="4" height="3" fill="#fff"/>
<rect x="413" y="594" width="3" height="3" fill="#fff"/>
<rect x="595" y="79" width="3" height="4" fill="#fff"/>
<rect x="600" y="79" width="3" height="4" fill="#fff"/>
<rect x="91" y="366" width="3" height="3" fill="#fff"/>
<rect x="96" y="366" width="3" height="3" fill="#fff"/>
<rect x="96" y="564" width="3" height="3" fill="#fff"/>
<rect x="101" y="564" width="3" height="3" fill="#fff"/>
</svg>
</body></html>
